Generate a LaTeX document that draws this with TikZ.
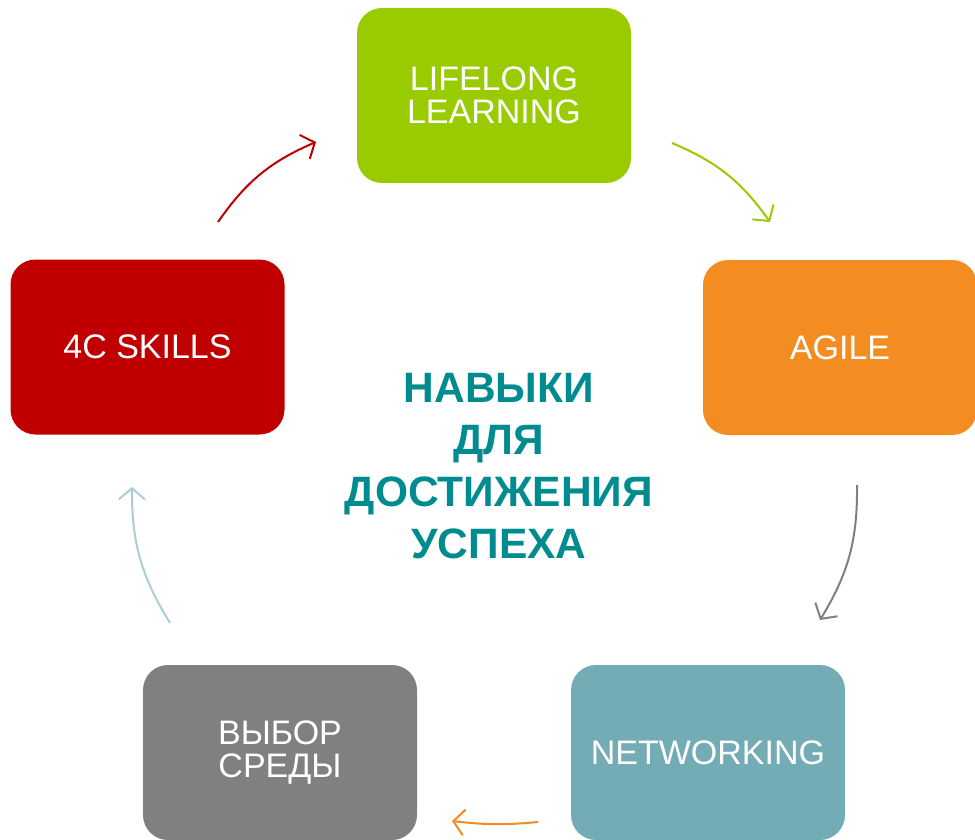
\documentclass[tikz,border=0pt]{standalone}
\usepackage{fontspec}
\setmainfont{Liberation Sans}
\usepackage{tikz}
\usetikzlibrary{arrows.meta,positioning}
\definecolor{SkillGreen}{RGB}{153,204,0}
\definecolor{SkillOrange}{RGB}{243,140,33}
\definecolor{SkillTeal}{RGB}{115,172,181}
\definecolor{SkillGray}{RGB}{128,128,128}
\definecolor{SkillRed}{RGB}{192,0,0}
\definecolor{SkillLight}{RGB}{168,207,213}
\definecolor{SkillTitle}{RGB}{0,139,143}

\begin{document}
\begin{tikzpicture}[
    x=1pt, y=1pt,
    box/.style={rounded corners=25pt, minimum width=274pt, minimum height=175pt, inner sep=0pt,
                text=white, align=center, font=\fontsize{34}{33}\selectfont},
    arrow/.style={-{Straight Barb[length=11pt,width=26pt]}, line width=2pt, bend left=16}
]
    \useasboundingbox (0,0) rectangle (975,-840);

    \node[box, fill=SkillGreen]  (life)  at (494,-95.5)  {LIFELONG\\LEARNING};
    \node[box, fill=SkillOrange] (agile) at (840,-347.5) {AGILE};
    \node[box, fill=SkillTeal]   (net)   at (708,-752.5) {NETWORKING};
    \node[box, fill=SkillGray]   (env)   at (280,-752.5) {ВЫБОР\\СРЕДЫ};
    \node[box, fill=SkillRed]    (skills) at (147.5,-347) {4C SKILLS};

    \node[text=SkillTitle, align=center, font=\fontsize{42.5}{52}\selectfont\bfseries]
        (title) at (499,-466) {НАВЫКИ\\ДЛЯ\\ДОСТИЖЕНИЯ\\УСПЕХА};

    % arrow ends
    \coordinate (a1) at (672,-143);  \coordinate (b1) at (770,-222);
    \coordinate (a2) at (857,-485);  \coordinate (b2) at (820,-620);
    \coordinate (a3) at (538,-822);  \coordinate (b3) at (452,-821);
    \coordinate (a4) at (170,-623);  \coordinate (b4) at (132,-487);
    \coordinate (a5) at (218,-222);  \coordinate (b5) at (316,-142);

    \draw[arrow, SkillGreen] (a1) to (b1);
    \draw[arrow, SkillGray] (a2) to (b2);
    \draw[arrow, SkillOrange, bend left=6] (a3) to (b3);
    \draw[arrow, SkillLight] (a4) to (b4);
    \draw[arrow, SkillRed] (a5) to (b5);
\end{tikzpicture}
\end{document}
